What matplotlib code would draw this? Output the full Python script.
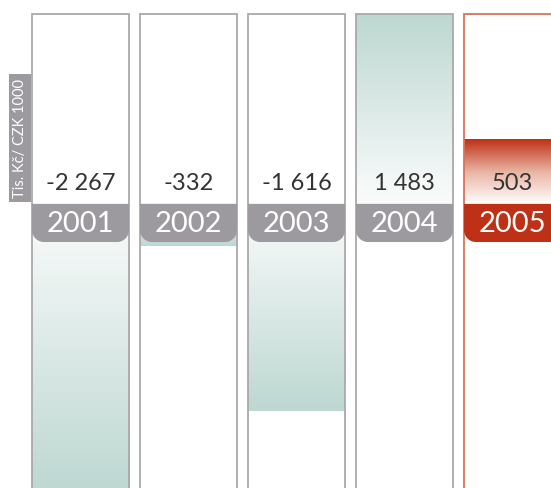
import numpy as np
import matplotlib.pyplot as plt
from matplotlib.colors import LinearSegmentedColormap
from matplotlib.patches import Rectangle, Polygon

plt.rcParams['font.family'] = ['Lato', 'DejaVu Sans']

# data
years = ["2001", "2002", "2003", "2004", "2005"]
values = [-2267, -332, -1616, 1483, 503]
highlight = [False, False, False, False, True]
unit_label = "Tis. Kč/ CZK 1000"

W, H = 551, 489
fig = plt.figure(figsize=(W / 100, H / 100), dpi=100)
ax = fig.add_axes([0, 0, 1, 1])

# pixel geometry -> data limits
zero_px = 205          # zero line, pixels from top
scale = 0.128          # px per unit
x0_px, step_px, col_w_px = 80.5, 108, 97
ax.set_xlim(-x0_px / step_px, (W - x0_px) / step_px)
ax.set_ylim(-(H - zero_px) / scale, zero_px / scale)
ax.axis('off')

px_y = 1 / scale
bw = col_w_px / step_px

teal = LinearSegmentedColormap.from_list("teal", ["#fbfcfc", "#bdd7d1"])
red = LinearSegmentedColormap.from_list("red", ["#ffffff", "#e9b3a3", "#bf3116"])
grad = np.linspace(0, 1, 256).reshape(-1, 1)

top_val = max(values)
for i, (yr, v, hl) in enumerate(zip(years, values, highlight)):
    left, right = i - bw / 2, i + bw / 2
    cmap = red if hl else teal
    ax.imshow(grad, cmap=cmap, origin='lower', aspect='auto',
              extent=(left, right, 0, v), zorder=1, interpolation='bilinear')
    # column frame
    edge = "#d9735b" if hl else "#a9a8ab"
    ax.add_patch(Rectangle((left, -5000), bw, top_val + 5000, fill=False,
                           edgecolor=edge, lw=1.3, zorder=2))
    # year tab with rounded bottom corners
    tab_top, tab_bot = 1, -297
    rx, ry = 12 / step_px, 12 * px_y
    t = np.linspace(0, np.pi / 2, 12)
    pts = [(left, tab_top), (right, tab_top)]
    pts += [(right - rx + rx * np.cos(a), tab_bot + ry - ry * np.sin(a)) for a in t]
    pts += [(left + rx - rx * np.sin(a), tab_bot + ry - ry * np.cos(a)) for a in t]
    tab_col = "#bf3116" if hl else "#9c9a9f"
    ax.add_patch(Polygon(pts, closed=True, facecolor=tab_col, edgecolor='none', zorder=3))
    ax.text(i, (tab_top + tab_bot) / 2, yr, ha='center', va='center',
            color='white', fontsize=21, zorder=4)
    ax.text(i, 22 * px_y, f"{v:,}".replace(",", " "), ha='center', va='center',
            color='#333333', fontsize=17, zorder=4)

# unit label box on the left
fig.patches.append(Rectangle((9 / W, 1 - 203 / H), 22 / W, 128 / H,
                             transform=fig.transFigure, facecolor="#9c9a9f",
                             edgecolor='none'))
fig.text(20 / W, 1 - 139 / H, unit_label, rotation=90, ha='center', va='center',
         color='white', fontsize=10.5)

fig.savefig("out.png", dpi=100)
